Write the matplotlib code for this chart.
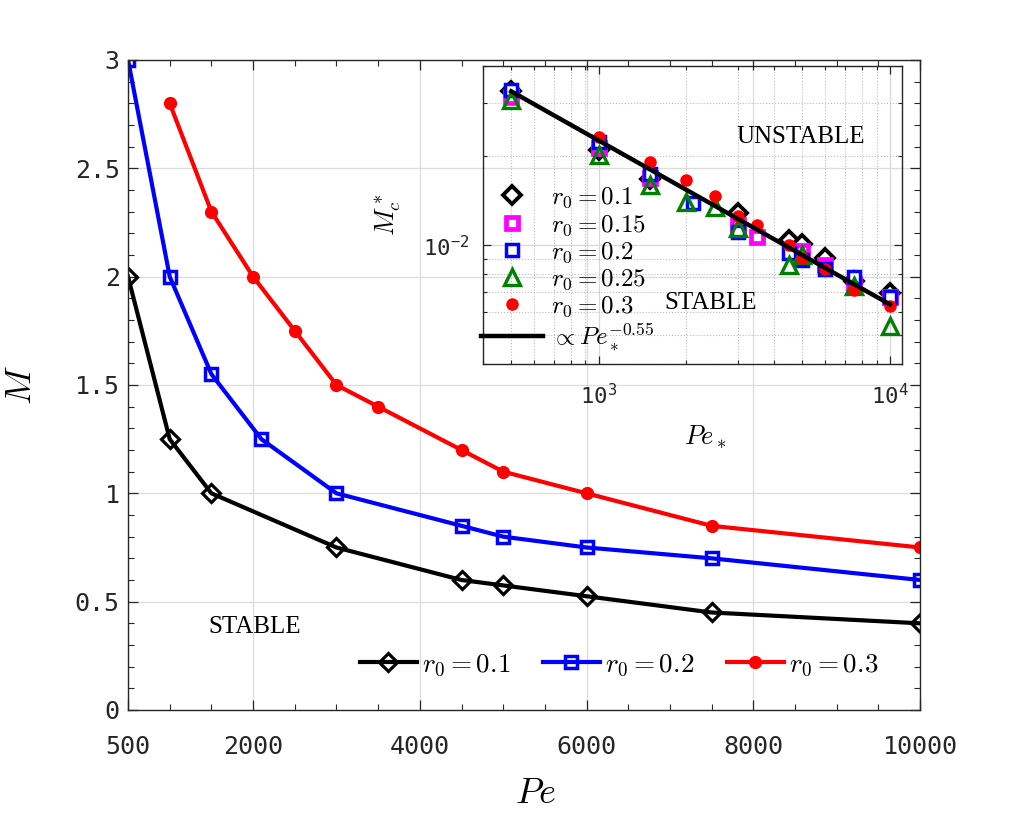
import numpy as np
import matplotlib
matplotlib.use('Agg')
import matplotlib.pyplot as plt
from matplotlib.ticker import MultipleLocator, NullFormatter, LogLocator, FixedLocator, FuncFormatter

plt.rcParams['mathtext.fontset'] = 'cm'

# main plot data (Pe vs critical M)
pe_01 = [500, 1000, 1500, 3000, 4500, 5000, 6000, 7500, 10000]
m_01 = [2.0, 1.25, 1.0, 0.75, 0.6, 0.575, 0.525, 0.45, 0.4]
pe_02 = [500, 1000, 1500, 2100, 3000, 4500, 5000, 6000, 7500, 10000]
m_02 = [3.0, 2.0, 1.55, 1.25, 1.0, 0.85, 0.8, 0.75, 0.7, 0.6]
pe_03 = [1000, 1500, 2000, 2500, 3000, 3500, 4500, 5000, 6000, 7500, 10000]
m_03 = [2.8, 2.3, 2.0, 1.75, 1.5, 1.4, 1.2, 1.1, 1.0, 0.85, 0.75]

x_ticks = [500, 2000, 4000, 6000, 8000, 10000]

# inset data (Pe_* vs M_c^*)
ins_pe_01 = [500, 1000, 1500, 3000, 4500, 5000, 6000, 7500, 10000]
ins_m_01 = [0.0330, 0.0209, 0.01675, 0.01282, 0.01044, 0.01013, 0.00907, 0.0076, 0.0069]
ins_pe_015 = [500, 1000, 1500, 3000, 3500, 5000, 6000, 7500, 10000]
ins_m_015 = [0.0314, 0.0213, 0.0169, 0.0117, 0.01071, 0.00955, 0.0086, 0.0074, 0.00673]
ins_pe_02 = [500, 1000, 1500, 2100, 3000, 4500, 5000, 6000, 7500, 10000]
ins_m_02 = [0.0332, 0.0222, 0.0173, 0.01384, 0.01113, 0.00943, 0.00896, 0.00834, 0.00784, 0.00673]
ins_pe_025 = [500, 1000, 1500, 2000, 2500, 3000, 4500, 5000, 7500, 10000]
ins_m_025 = [0.0308, 0.0201, 0.0159, 0.01398, 0.01349, 0.01145, 0.00862, 0.0093, 0.0073, 0.00537]
ins_pe_03 = [1000, 1500, 2000, 2500, 3000, 3500, 4500, 5000, 6000, 7500, 10000]
ins_m_03 = [0.0232, 0.01905, 0.0166, 0.01464, 0.01256, 0.0117, 0.01005, 0.00907, 0.00834, 0.00711, 0.00626]
fit_pe = [500, 10000]
fit_m = [0.0329, 0.00634]

tick_col = '#262626'
mono = 'DejaVu Sans Mono'

fig = plt.figure(figsize=(10.17, 8.13), dpi=100)
ax = fig.add_axes([0.1259, 0.1267, 0.7788, 0.7995])

ax.plot(pe_01, m_01, color='k', lw=3, marker='D', ms=9, mfc='none', mew=2.3, label=r'$r_0=0.1$')
ax.plot(pe_02, m_02, color='#0000ff', lw=3, marker='s', ms=8.5, mfc='none', mew=2.5, label=r'$r_0=0.2$')
ax.plot(pe_03, m_03, color='#ff0000', lw=3, marker='o', ms=8.5, label=r'$r_0=0.3$')

ax.set_xlim(500, 10000)
ax.set_ylim(0, 3)
ax.set_xticks(x_ticks)
ax.xaxis.set_minor_locator(MultipleLocator(500))
ax.yaxis.set_major_locator(MultipleLocator(0.5))
ax.yaxis.set_minor_locator(MultipleLocator(0.1))
ax.yaxis.set_major_formatter(FuncFormatter(lambda v, p: '{:g}'.format(v)))
ax.grid(True, which='major', color='#dcdcdc', lw=0.9)
ax.set_axisbelow(True)
ax.tick_params(which='both', direction='in', top=True, right=True, colors=tick_col,
               labelsize=18, labelfontfamily=mono)
ax.tick_params(which='major', length=7, width=0.9)
ax.tick_params(which='minor', length=4, width=0.8)
ax.tick_params(axis='x', pad=18)
ax.tick_params(axis='y', pad=6)
for s in ax.spines.values():
    s.set_color(tick_col)
    s.set_linewidth(1.0)

ax.set_xlabel(r'$Pe$', fontsize=26)
ax.set_ylabel(r'$M$', fontsize=26)
ax.xaxis.set_label_coords(0.514, -0.102)
ax.yaxis.set_label_coords(-0.114, 0.5)

ax.text(0.160, 0.128, 'STABLE', transform=ax.transAxes, ha='center', va='center',
        fontsize=18, family='Liberation Serif')

ax.legend(loc='center', bbox_to_anchor=(0.62, 0.069), ncol=3, frameon=False,
          fontsize=19.5, handlelength=2.1, handletextpad=0.2, columnspacing=1.2)

# inset
ins = fig.add_axes([0.4749, 0.5523, 0.412, 0.3665])
ins.patch.set_alpha(0)
ins.set_xscale('log')
ins.set_yscale('log')
ins.plot(ins_pe_01, ins_m_01, ls='none', marker='D', ms=9, mfc='white', mec='k', mew=2.8, label=r'$r_0=0.1$')
ins.plot(ins_pe_015, ins_m_015, ls='none', marker='s', ms=8, mfc='white', mec='#ff00ff', mew=3.4, label=r'$r_0=0.15$')
ins.plot(ins_pe_02, ins_m_02, ls='none', marker='s', ms=8, mfc='white', mec='#0000ff', mew=2.5, label=r'$r_0=0.2$')
ins.plot(ins_pe_025, ins_m_025, ls='none', marker='^', ms=11, mfc='none', mec='#008000', mew=2.4, label=r'$r_0=0.25$')
ins.plot(ins_pe_03, ins_m_03, ls='none', marker='o', ms=8, color='#ff0000', label=r'$r_0=0.3$')
ins.plot(fit_pe, fit_m, color='k', lw=3.2, label=r'$\propto Pe_*^{-0.55}$')

ins.set_xlim(400, 11000)
ins.set_ylim(0.004, 0.04)
ins.xaxis.set_major_locator(FixedLocator([1000, 10000]))
ins.yaxis.set_major_locator(FixedLocator([0.01]))
ins.xaxis.set_minor_locator(LogLocator(base=10, subs=np.arange(2, 10)))
ins.yaxis.set_minor_locator(LogLocator(base=10, subs=np.arange(2, 10)))
ins.xaxis.set_minor_formatter(NullFormatter())
ins.yaxis.set_minor_formatter(NullFormatter())
ins.set_xticklabels([r'$\mathregular{10^{3}}$', r'$\mathregular{10^{4}}$'])
ins.set_yticklabels([r'$\mathregular{10^{-2}}$'])
ins.grid(True, which='major', color='#d8d8d8', lw=0.9)
ins.grid(True, which='minor', color='#bbbbbb', lw=0.8, ls=':')
ins.tick_params(which='both', direction='in', top=True, right=True, colors=tick_col,
                labelsize=16, labelfontfamily=mono)
ins.tick_params(which='major', length=6, width=0.9)
ins.tick_params(which='minor', length=3, width=0.8)
ins.tick_params(axis='x', pad=14)
ins.tick_params(axis='y', pad=10)
for s in ins.spines.values():
    s.set_color(tick_col)
    s.set_linewidth(1.0)

ins.set_xlabel(r'$Pe_*$', fontsize=19)
ins.set_ylabel(r'$M_c^*$', fontsize=19)
ins.xaxis.set_label_coords(0.53, -0.2)
ins.yaxis.set_label_coords(-0.19, 0.5)

ins.text(0.758, 0.762, 'UNSTABLE', transform=ins.transAxes, ha='center', va='center',
         fontsize=18, family='Liberation Serif')
ins.text(0.543, 0.205, 'STABLE', transform=ins.transAxes, ha='center', va='center',
         fontsize=18, family='Liberation Serif')

ins.legend(loc='upper left', bbox_to_anchor=(-0.005, 0.6), frameon=False, fontsize=18,
           handlelength=2.5, handletextpad=0.3, labelspacing=0.08, borderaxespad=0,
           borderpad=0)

fig.savefig('out.png', dpi=100)
